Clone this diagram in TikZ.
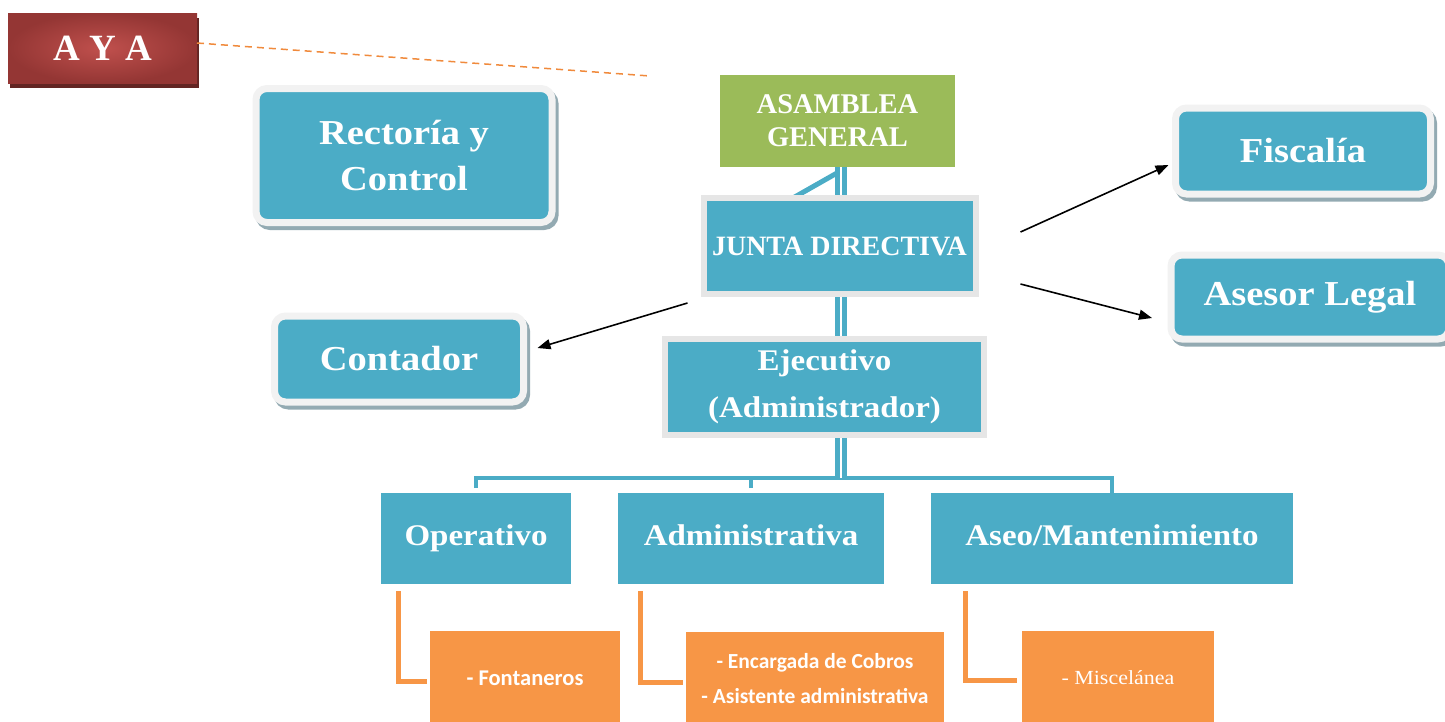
\documentclass[tikz,border=0pt]{standalone}
\usepackage{fontspec}
\newfontfamily\cbf[FakeStretch=1.1]{Liberation Serif}
\newfontfamily\cbn{Liberation Serif}
\newfontfamily\carl{Carlito}
\usetikzlibrary{arrows.meta,calc}
\definecolor{bluec}{HTML}{4BACC6}
\definecolor{greenc}{HTML}{9BBB59}
\definecolor{orangec}{HTML}{F79646}
\definecolor{redin}{HTML}{C0504D}
\definecolor{redout}{HTML}{943634}
\definecolor{redsh}{HTML}{632523}
\definecolor{lgray}{HTML}{F2F2F2}
\definecolor{bgray}{HTML}{E6E6E6}
\definecolor{shc}{HTML}{93AAB2}
\definecolor{dashc}{HTML}{F08A3C}
\tikzset{
  rbox/.style={draw=lgray, line width=7pt, fill=bluec, rounded corners=11pt,
    text=white, font=\cbf\bfseries\fontsize{35}{46}\selectfont, align=center,
    inner sep=0pt, outer sep=0pt,
    preaction={draw=shc, fill=shc, line width=7pt, transform canvas={xshift=3pt,yshift=-4pt}}},
  sbox/.style={draw=bgray, line width=6pt, fill=bluec, text=white,
    font=\cbf\bfseries\fontsize{30}{46}\selectfont, align=center, inner sep=0pt, outer sep=0pt},
  pbox/.style={fill=bluec, text=white, font=\cbf\bfseries\fontsize{30}{36}\selectfont,
    align=center, inner sep=0pt, outer sep=0pt, minimum height=91pt, text height=20pt, text depth=6pt},
  obox/.style={fill=orangec, text=white, align=center, inner sep=0pt, outer sep=0pt,
    minimum height=94pt},
  dline/.style={draw=bluec, line width=5.5pt, double=white, double distance=1.5pt},
  bline/.style={draw=bluec, line width=4pt},
  oline/.style={draw=orangec, line width=5pt},
  arr/.style={draw=black, line width=1.6pt, -{Triangle[length=13pt,width=10pt]}},
}
\begin{document}
\begin{tikzpicture}[x=1pt,y=-1pt]
\useasboundingbox (0,0) rectangle (1445,721);
% AYA
\node[minimum width=189pt, minimum height=70pt, inner sep=0pt, outer sep=0pt,
  preaction={fill=redsh, transform canvas={xshift=2pt,yshift=-5pt}},
  shading=radial, inner color=redin, outer color=redout, text=white,
  font=\cbn\bfseries\fontsize{37}{40}\selectfont] (aya) at (102.5,48) {A Y A};
\coordinate (dend) at (650,76);
\draw[dashc, line width=1.5pt, dash pattern=on 7pt off 5pt] (aya.east |- 0,43) -- (dend);
% side boxes
\node[rbox, minimum width=296pt, minimum height=134pt] (rect) at (404,155.5) {Rectoría y\\Control};
\node[rbox, minimum width=255pt, minimum height=86pt] (fisc) at (1303,151) {Fiscalía};
\node[rbox, minimum width=278pt, minimum height=84pt] (ases) at (1310,297) {Asesor Legal};
\node[rbox, minimum width=249pt, minimum height=86pt] (cont) at (399,359) {Contador};
% top
\node[fill=greenc, text=white, font=\cbn\bfseries\fontsize{28.5}{33}\selectfont, align=center,
  minimum width=235pt, minimum height=92pt, inner sep=0pt, outer sep=0pt] (asam) at (837.5,121) {ASAMBLEA\\GENERAL};
% third level
\node[pbox, minimum width=190pt] (op) at (476,538.5) {Operativo};
\node[pbox, minimum width=266pt] (adm) at (751,538.5) {Administrativa};
\node[pbox, minimum width=362pt] (aseo) at (1112,538.5) {Aseo/Mantenimiento};
% blue connectors
\coordinate (jn) at (841,478);
\draw[bline, shorten <=5pt] (op.north) -- (op.north |- jn) -- (aseo.north |- jn) -- (aseo.north);
\draw[bline, shorten <=5pt] (adm.north) -- (adm.north |- jn);
\draw[dline] (asam.south -| jn) -- (jn);
\coordinate (dg) at (793,198);
\draw[draw=bluec, line width=5pt] ($(asam.south -| jn)+(-4,6)$) -- (dg);
% middle
\node[sbox, minimum width=272pt, minimum height=96pt, font=\cbn\bfseries\fontsize{28}{30}\selectfont] (junta) at (839.5,246) {JUNTA DIRECTIVA};
\node[sbox, minimum width=319pt, minimum height=96pt, font=\cbf\bfseries\fontsize{30}{47}\selectfont] (ejec) at (824.5,387) {Ejecutivo\\(Administrador)};
% orange boxes
\node[obox, minimum width=190pt, font=\carl\bfseries\fontsize{22.5}{25}\selectfont] (fon) at (525,678) {- Fontaneros};
\node[obox, minimum width=258pt, font=\carl\bfseries\fontsize{21.5}{35}\selectfont] (enc) at (815,679) {- Encargada de Cobros\\- Asistente administrativa};
\node[obox, minimum width=192pt, font=\cbf\fontsize{20}{24}\selectfont] (misc) at (1118,678) {- Miscelánea};
% orange connectors
\draw[oline] ($(op.south west)+(17,7)$) |- ($(fon.west)+(-3,3)$);
\draw[oline] ($(adm.south west)+(22,7)$) |- ($(enc.west)+(-3,3)$);
\draw[oline] ($(aseo.south west)+(34,7)$) |- ($(misc.west)+(-5,2)$);
% black arrows
\coordinate (s1) at ($(junta.east)+(45,-14)$);
\coordinate (s2) at ($(junta.east)+(45,38)$);
\coordinate (s3) at ($(junta.south west)+(-16,9)$);
\draw[arr] (s1) -- ($(fisc.west)+(-7,14)$);
\draw[arr] (s2) -- ($(ases.west)+(-19,21)$);
\draw[arr] (s3) -- ($(cont.east)+(14,-11)$);
\end{tikzpicture}
\end{document}
